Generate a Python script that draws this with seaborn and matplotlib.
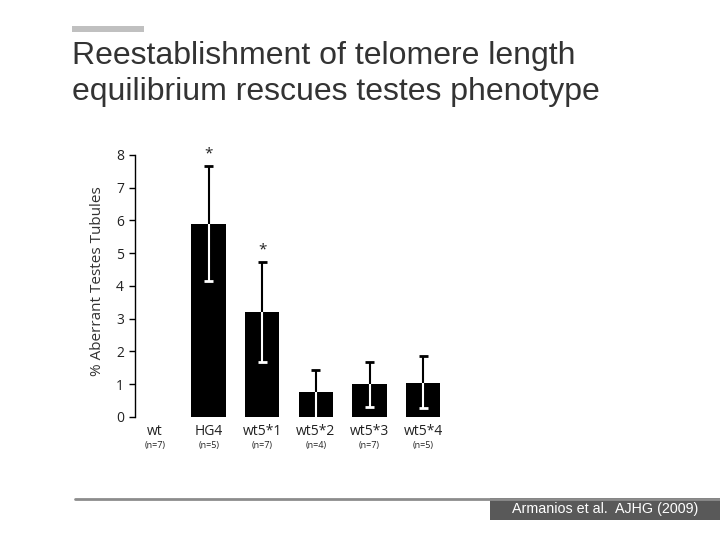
import matplotlib
matplotlib.use("Agg")
import matplotlib.pyplot as plt
import seaborn as sns
import pandas as pd
from matplotlib.patches import Rectangle
from matplotlib.lines import Line2D

categories = ["wt", "HG4", "wt5*1", "wt5*2", "wt5*3", "wt5*4"]
n_labels = ["(n=7)", "(n=5)", "(n=7)", "(n=4)", "(n=7)", "(n=5)"]
values = [0.0, 5.9, 3.2, 0.75, 1.0, 1.05]
err_upper = [0.0, 1.75, 1.52, 0.67, 0.68, 0.8]
err_lower = [0.0, 1.75, 1.53, 0.75, 0.7, 0.77]
significant = [False, True, True, False, False, False]
yticks = [0, 1, 2, 3, 4, 5, 6, 7, 8]

sns.set_theme(style="white")
plt.rcParams['font.family'] = ['Open Sans', 'DejaVu Sans']

fig = plt.figure(figsize=(7.2, 5.4), dpi=100)
ax = fig.add_axes([135/720, 1 - 417/540, (450 - 135)/720, (417 - 145)/540])

df = pd.DataFrame({"cat": categories, "val": values})
sns.barplot(data=df, x="cat", y="val", color="black", width=0.64,
            errorbar=None, ax=ax, saturation=1, linewidth=0)

xs = list(range(len(categories)))
cap = 0.085
for x, v, eu, el, sig in zip(xs, values, err_upper, err_lower, significant):
    if v <= 0:
        continue
    top = v + eu
    bot = max(v - el, 0)
    ax.vlines(x, v, top, color="black", linewidth=1.5)
    ax.hlines(top, x - cap, x + cap, color="black", linewidth=2)
    ax.vlines(x, bot, v, color="white", linewidth=1.5)
    if bot > 0:
        ax.hlines(bot, x - cap, x + cap, color="white", linewidth=2)
    if sig:
        ax.text(x, top + 0.15, "*", ha="center", va="bottom", fontsize=11, color="#222222")

ax.set_xlim(-0.373, 5.5)
ax.set_ylim(0, 8.3)
ax.set_yticks(yticks)
ax.set_yticklabels([str(t) for t in yticks], fontsize=10, color="#222222")
ax.tick_params(axis="y", direction="out", length=4, width=1, color="black", left=True, pad=4)
ax.tick_params(axis="x", length=0, pad=5)
ax.set_xticks(xs)
ax.set_xticklabels(categories, fontsize=10, color="#222222")
for x, nl in zip(xs, n_labels):
    ax.text(x, -0.088, nl, transform=ax.get_xaxis_transform(), ha="center", va="top",
            fontsize=6.5, color="#222222")
ax.set_xlabel("")
ax.set_ylabel("% Aberrant Testes Tubules", fontsize=11, color="#333333", labelpad=8)
for s in ["top", "right", "bottom"]:
    ax.spines[s].set_visible(False)
ax.spines["left"].set_color("black")
ax.spines["left"].set_linewidth(1)
ax.spines["left"].set_bounds(0, 8)

# Slide decorations
fig.patches.append(Rectangle((72/720, 1 - 32/540), 72/720, 6/540, transform=fig.transFigure,
                             facecolor="#c0c0c0", edgecolor="none"))
fig.text(72/720, 1 - 56/540, "Reestablishment of telomere length", fontsize=23,
         family="Liberation Sans", color="#333333", va="center", ha="left")
fig.text(72/720, 1 - 92/540, "equilibrium rescues testes phenotype", fontsize=23,
         family="Liberation Sans", color="#333333", va="center", ha="left")
fig.lines.append(Line2D([75/720, 1], [1 - 499/540, 1 - 499/540], transform=fig.transFigure,
                        color="#8c8c8c", linewidth=2))
fig.patches.append(Rectangle((490/720, 1 - 520/540), 230/720, 22/540, transform=fig.transFigure,
                             facecolor="#595959", edgecolor="none"))
fig.text(605/720, 1 - 509/540, "Armanios et al.  AJHG (2009)", fontsize=10.3,
         family="Liberation Sans", color="white", va="center", ha="center")

fig.savefig("out.png", dpi=100)
